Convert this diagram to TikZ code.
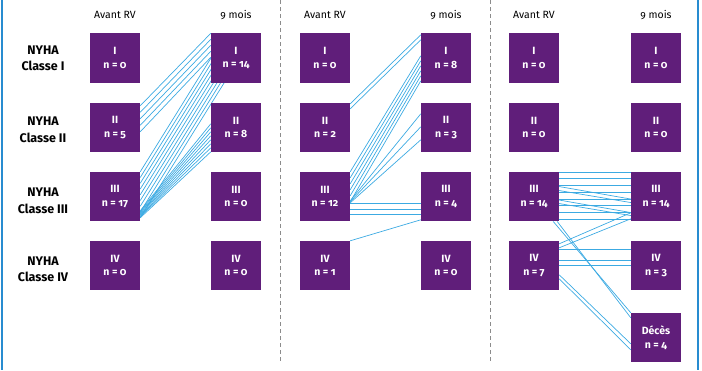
\documentclass[tikz,border=0pt]{standalone}
\usepackage{fontspec}
\setmainfont{Fira Sans}[Numbers=OldStyle]
\usetikzlibrary{calc}
\pgfdeclarelayer{bg}
\pgfsetlayers{bg,main}
\definecolor{boxpurple}{RGB}{96,30,122}
\definecolor{linkblue}{RGB}{60,170,226}
\definecolor{framblue}{RGB}{40,140,208}
\definecolor{sepgray}{RGB}{140,140,140}
\tikzset{
  stagebox/.style={fill=boxpurple, draw=none, minimum width=50pt, minimum height=49.5pt,
    inner sep=0pt, text=white, align=center,
    font=\fontsize{10.5}{13.6}\selectfont\bfseries},
  rowlabel/.style={align=center, inner sep=0pt, font=\fontsize{12.5}{16.5}\selectfont\bfseries},
  header/.style={inner sep=0pt, font=\fontsize{10.5}{12}\selectfont},
  conn/.style={draw=linkblue, line width=0.7pt},
  sepline/.style={draw=sepgray, line width=0.8pt, dash pattern=on 4pt off 3pt},
  frameline/.style={draw=framblue, line width=2pt}
}
\begin{document}
\begin{tikzpicture}[x=1pt,y=-1pt]
\useasboundingbox (0,0) rectangle (702,370);
% frame
\coordinate (fl1) at (1.5,0); \coordinate (fl2) at (1.5,370);
\coordinate (fr1) at (698,0); \coordinate (fr2) at (698,370);
\draw[frameline] (fl1) -- (fl2);
\draw[frameline] (fr1) -- (fr2);
% separators
\coordinate (s1a) at (280,0); \coordinate (s1b) at (280,362);
\coordinate (s2a) at (490,0); \coordinate (s2b) at (490,362);
\draw[sepline] (s1a) -- (s1b);
\draw[sepline] (s2a) -- (s2b);
% headers
\foreach \p/\lx/\rx in {a/115/236, b/325/446, c/534/656}{
  \node[header] (h\p l) at (\lx,15) {Avant RV};
  \node[header] (h\p r) at (\rx,15) {9 mois};
}
% row labels
\node[rowlabel] (r1) at (43,58.5) {NYHA\\Classe I};
\node[rowlabel] (r2) at (43,130) {NYHA\\Classe II};
\node[rowlabel] (r3) at (43,201) {NYHA\\Classe III};
\node[rowlabel] (r4) at (43,269.5) {NYHA\\Classe IV};
% panel 1 boxes
\node[stagebox] (aL1) at (115,58) {I\\n = 0};
\node[stagebox] (aL2) at (115,127.5) {II\\n = 5};
\node[stagebox] (aL3) at (115,196.5) {III\\n = 17};
\node[stagebox] (aL4) at (115,265.5) {IV\\n = 0};
\node[stagebox] (aR1) at (236,58) {I\\n = 14};
\node[stagebox] (aR2) at (236,127.5) {II\\n = 8};
\node[stagebox] (aR3) at (236,196.5) {III\\n = 0};
\node[stagebox] (aR4) at (236,265.5) {IV\\n = 0};
% panel 2 boxes
\node[stagebox] (bL1) at (325,58) {I\\n = 0};
\node[stagebox] (bL2) at (325,127.5) {II\\n = 2};
\node[stagebox] (bL3) at (325,196.5) {III\\n = 12};
\node[stagebox] (bL4) at (325,265.5) {IV\\n = 1};
\node[stagebox] (bR1) at (446,58) {I\\n = 8};
\node[stagebox] (bR2) at (446,127.5) {II\\n = 3};
\node[stagebox] (bR3) at (446,196.5) {III\\n = 4};
\node[stagebox] (bR4) at (446,265.5) {IV\\n = 0};
% panel 3 boxes
\node[stagebox] (cL1) at (534,58) {I\\n = 0};
\node[stagebox] (cL2) at (534,127.5) {II\\n = 0};
\node[stagebox] (cL3) at (534,196.5) {III\\n = 14};
\node[stagebox] (cL4) at (534,265.5) {IV\\n = 7};
\node[stagebox] (cR1) at (656,58) {I\\n = 0};
\node[stagebox] (cR2) at (656,127.5) {II\\n = 0};
\node[stagebox] (cR3) at (656,196.5) {III\\n = 14};
\node[stagebox] (cR4) at (656,265.5) {IV\\n = 3};
\node[stagebox] (cD) at (656,337.5) {Décès\\n = 4};
\begin{pgfonlayer}{bg}
% ---- panel 1
\foreach \k in {0,...,4}{
  \draw[conn] ([yshift={-(3.25+6.5*\k)*1pt}]aL2.north east) -- ([yshift={-(0.25+6*\k)*1pt}]aR1.north west);
}
\foreach \k in {0,...,8}{
  \draw[conn] ([yshift={-(0.25+5.75*\k)*1pt}]aL3.north east) -- ([xshift=14pt,yshift={-(2.75+5.75*\k)*1pt}]aR1.north west);
}
\foreach \k in {0,...,7}{
  \draw[conn] ([yshift={-(39.25+1*\k)*1pt}]aL3.north east) -- ([yshift={-(21.25+4*\k)*1pt}]aR2.north west);
}
% ---- panel 2
\foreach \k in {0,1}{
  \draw[conn] ([yshift={-(1.25+5*\k)*1pt}]bL2.north east) -- ([yshift={-(1.75+5*\k)*1pt}]bR1.north west);
}
\foreach \k in {0,...,5}{
  \draw[conn] ([yshift={-(0.25+6*\k)*1pt}]bL3.north east) -- ([yshift={-(22.75+5*\k)*1pt}]bR1.north west);
}
\foreach \a/\b in {29.25/11.25, 30.25/24.25, 31.25/37.25}{
  \draw[conn] ([yshift=-\a pt]bL3.north east) -- ([yshift=-\b pt]bR2.north west);
}
\foreach \a in {32.25, 37.75, 43.25}{
  \draw[conn] ([yshift=-\a pt]bL3.north east) -- ([yshift=-\a pt]bR3.north west);
}
\draw[conn] ([yshift=-0.25pt]bL4.north east) -- ([yshift=-48.25pt]bR3.north west);
% ---- panel 3
\foreach \a in {0.5, 7.25, 14, 21, 27.5, 34.25, 41, 48.25}{
  \draw[conn] ([yshift=-\a pt]cL3.north east) -- ([yshift=-\a pt]cR3.north west);
}
\foreach \a/\b in {15/27.5, 19/31, 28.5/41, 32/44}{
  \draw[conn] ([yshift=-\a pt]cL3.north east) -- ([yshift=-\b pt]cR3.north west);
}
\draw[conn] ([xshift=-6pt]cL3.south east) -- ([yshift=-0.25pt]cD.north west);
\draw[conn] ([xshift=-2pt]cL3.south east) -- ([yshift=-5.25pt]cD.north west);
\draw[conn] ([yshift=-3.25pt]cL4.north east) -- ([yshift=-41.25pt]cR3.north west);
\draw[conn] ([yshift=-7.25pt]cL4.north east) -- ([yshift=-47.25pt]cR3.north west);
\foreach \a in {9.25, 20.25, 25.25}{
  \draw[conn] ([yshift=-\a pt]cL4.north east) -- ([yshift=-\a pt]cR4.north west);
}
\draw[conn] ([yshift=-34.25pt]cL4.north east) -- ([yshift=-31.25pt]cD.north west);
\draw[conn] ([yshift=-38.25pt]cL4.north east) -- ([yshift=-37.25pt]cD.north west);
\end{pgfonlayer}
\end{tikzpicture}
\end{document}
